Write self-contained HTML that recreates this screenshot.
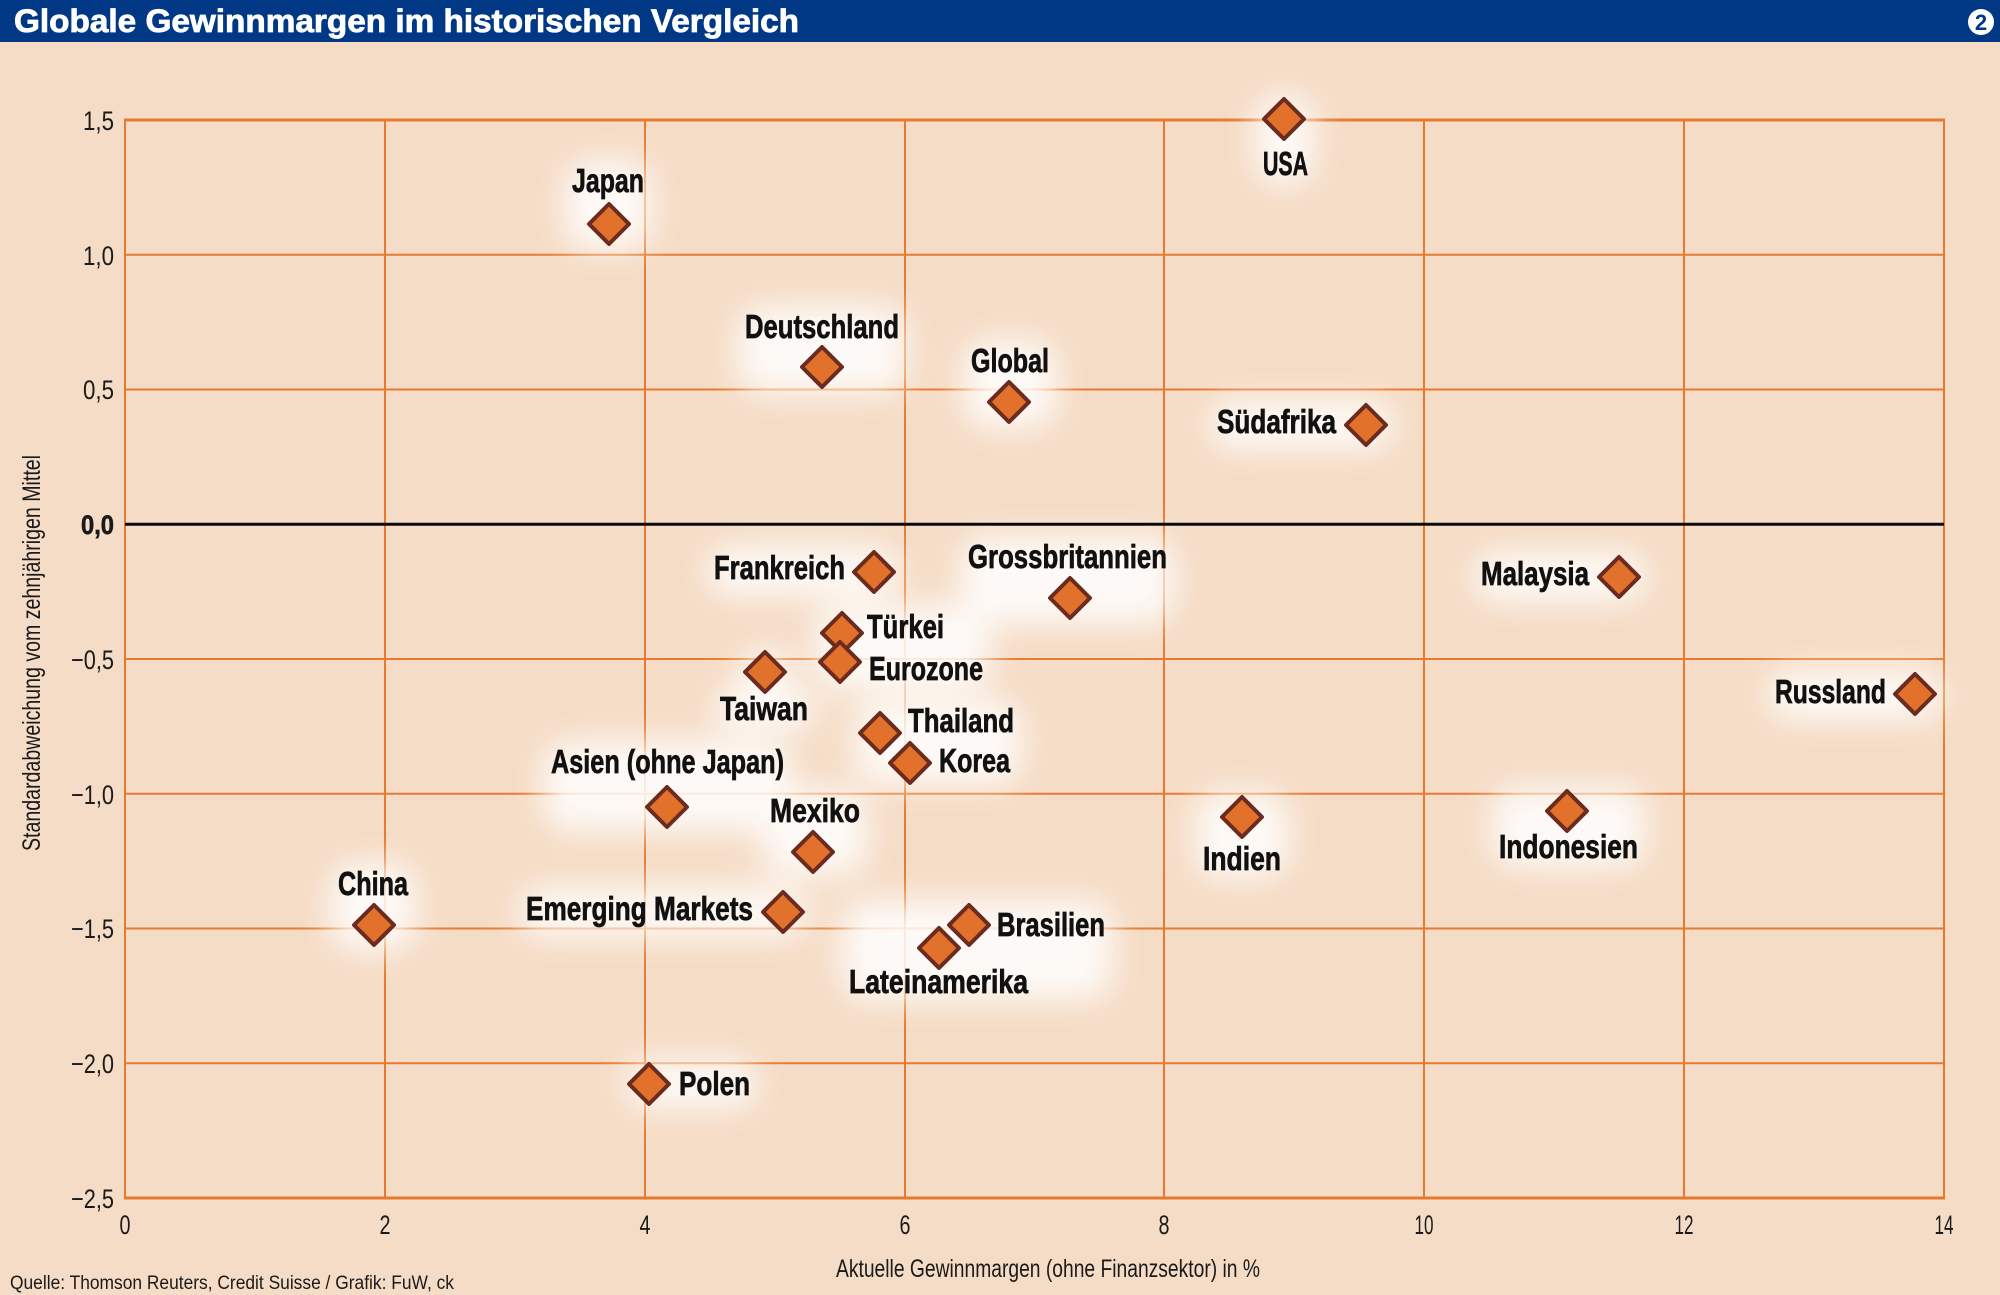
<!DOCTYPE html>
<html><head><meta charset="utf-8"><style>
html,body{margin:0;padding:0;background:#f5dcc6;}
body{width:2000px;height:1295px;overflow:hidden;}
svg{display:block;}
text{font-family:"Liberation Sans Narrow","Liberation Sans",sans-serif;}
.lb{font-weight:bold;font-size:33px;fill:#111;stroke:#111;stroke-width:0.7;}
.tk{font-size:27px;fill:#1a1a1a;}
</style></head><body>
<svg width="2000" height="1295" viewBox="0 0 2000 1295" xmlns="http://www.w3.org/2000/svg">
<defs>
<filter id="blur" x="-50%" y="-50%" width="200%" height="200%"><feGaussianBlur stdDeviation="16"/></filter>
</defs>
<rect x="0" y="0" width="2000" height="1295" fill="#f5dcc6"/>
<!-- header -->
<rect x="0" y="0" width="2000" height="42" fill="#003886"/>
<text x="14" y="32" font-size="32" font-weight="bold" fill="#fff" stroke="#fff" stroke-width="0.8" textLength="785" lengthAdjust="spacingAndGlyphs">Globale Gewinnmargen im historischen Vergleich</text>
<ellipse cx="1981" cy="22" rx="13" ry="13" fill="#fff"/>
<text x="1981" y="30" font-size="22" font-weight="bold" fill="#003886" text-anchor="middle">2</text>

<!-- grid -->
<g stroke="#e77a2e" stroke-width="2" fill="none">
<line x1="385" y1="120" x2="385" y2="1198"/>
<line x1="645" y1="120" x2="645" y2="1198"/>
<line x1="905" y1="120" x2="905" y2="1198"/>
<line x1="1164" y1="120" x2="1164" y2="1198"/>
<line x1="1424" y1="120" x2="1424" y2="1198"/>
<line x1="1684" y1="120" x2="1684" y2="1198"/>
<line x1="1944" y1="119" x2="1944" y2="1199"/>
<line x1="125" y1="119" x2="125" y2="1199"/>
<line x1="125" y1="254.75" x2="1944" y2="254.75"/>
<line x1="125" y1="389.5" x2="1944" y2="389.5"/>
<line x1="125" y1="659" x2="1944" y2="659"/>
<line x1="125" y1="793.75" x2="1944" y2="793.75"/>
<line x1="125" y1="928.5" x2="1944" y2="928.5"/>
<line x1="125" y1="1063.25" x2="1944" y2="1063.25"/>
<line x1="124" y1="120" x2="1945" y2="120" stroke-width="3"/>
<line x1="124" y1="1198" x2="1945" y2="1198" stroke-width="3"/>
</g>

<!-- glow -->
<g filter="url(#blur)" fill="#fff" opacity="0.85">
<rect x="1255" y="95" width="60" height="90" rx="25"/>
<rect x="564" y="160" width="88" height="90" rx="25"/>
<rect x="737" y="306" width="170" height="88" rx="25"/>
<rect x="963" y="340" width="94" height="88" rx="25"/>
<rect x="1209" y="400" width="185" height="50" rx="25"/>
<rect x="706" y="546" width="194" height="50" rx="25"/>
<rect x="960" y="536" width="215" height="88" rx="25"/>
<rect x="1473" y="552" width="174" height="50" rx="25"/>
<rect x="815" y="605" width="176" height="85" rx="25"/>
<rect x="740" y="648" width="50" height="80" rx="25"/>
<rect x="712" y="690" width="104" height="40" rx="20"/>
<rect x="1767" y="670" width="176" height="50" rx="25"/>
<rect x="855" y="700" width="167" height="85" rx="25"/>
<rect x="543" y="741" width="249" height="90" rx="25"/>
<rect x="1195" y="792" width="94" height="86" rx="25"/>
<rect x="1491" y="787" width="155" height="80" rx="25"/>
<rect x="762" y="790" width="106" height="85" rx="25"/>
<rect x="330" y="863" width="86" height="88" rx="25"/>
<rect x="518" y="887" width="290" height="50" rx="25"/>
<rect x="841" y="900" width="272" height="100" rx="25"/>
<rect x="624" y="1060" width="134" height="48" rx="24"/>
</g>

<!-- zero line -->
<line x1="125" y1="524.25" x2="1944" y2="524.25" stroke="#0a0a0a" stroke-width="3"/>

<!-- tick labels -->
<g class="tk">
<text x="114" y="130" text-anchor="end" textLength="31" lengthAdjust="spacingAndGlyphs">1,5</text>
<text x="114" y="265" text-anchor="end" textLength="31" lengthAdjust="spacingAndGlyphs">1,0</text>
<text x="114" y="399" text-anchor="end" textLength="31" lengthAdjust="spacingAndGlyphs">0,5</text>
<text x="114" y="534" text-anchor="end" font-weight="bold" stroke="#1a1a1a" stroke-width="0.6" textLength="33" lengthAdjust="spacingAndGlyphs">0,0</text>
<text x="114" y="669" text-anchor="end" textLength="43" lengthAdjust="spacingAndGlyphs">−0,5</text>
<text x="114" y="804" text-anchor="end" textLength="43" lengthAdjust="spacingAndGlyphs">−1,0</text>
<text x="114" y="938" text-anchor="end" textLength="43" lengthAdjust="spacingAndGlyphs">−1,5</text>
<text x="114" y="1073" text-anchor="end" textLength="43" lengthAdjust="spacingAndGlyphs">−2,0</text>
<text x="114" y="1208" text-anchor="end" textLength="43" lengthAdjust="spacingAndGlyphs">−2,5</text>
<text x="125" y="1234" text-anchor="middle" textLength="11" lengthAdjust="spacingAndGlyphs">0</text>
<text x="385" y="1234" text-anchor="middle" textLength="11" lengthAdjust="spacingAndGlyphs">2</text>
<text x="645" y="1234" text-anchor="middle" textLength="11" lengthAdjust="spacingAndGlyphs">4</text>
<text x="905" y="1234" text-anchor="middle" textLength="11" lengthAdjust="spacingAndGlyphs">6</text>
<text x="1164" y="1234" text-anchor="middle" textLength="11" lengthAdjust="spacingAndGlyphs">8</text>
<text x="1424" y="1234" text-anchor="middle" textLength="19" lengthAdjust="spacingAndGlyphs">10</text>
<text x="1684" y="1234" text-anchor="middle" textLength="19" lengthAdjust="spacingAndGlyphs">12</text>
<text x="1944" y="1234" text-anchor="middle" textLength="19" lengthAdjust="spacingAndGlyphs">14</text>
</g>

<!-- axis titles -->
<text x="1048" y="1277" font-size="25" fill="#1a1a1a" text-anchor="middle" textLength="424" lengthAdjust="spacingAndGlyphs">Aktuelle Gewinnmargen (ohne Finanzsektor) in %</text>
<text transform="translate(40,653) rotate(-90)" x="0" y="0" font-size="25" fill="#1a1a1a" text-anchor="middle" textLength="396" lengthAdjust="spacingAndGlyphs">Standardabweichung vom zehnjährigen Mittel</text>
<text x="10" y="1289" font-size="19" fill="#1a1a1a" textLength="444" lengthAdjust="spacingAndGlyphs">Quelle: Thomson Reuters, Credit Suisse / Grafik: FuW, ck</text>

<!-- diamonds -->
<g fill="#e2712b" stroke="#6b2b1e" stroke-width="4" stroke-linejoin="round">
<path d="M1284 99 L1304 119 L1284 139 L1264 119 Z"/>
<path d="M609 204 L629 224 L609 244 L589 224 Z"/>
<path d="M822 347 L842 367 L822 387 L802 367 Z"/>
<path d="M1009 382 L1029 402 L1009 422 L989 402 Z"/>
<path d="M1366 405 L1386 425 L1366 445 L1346 425 Z"/>
<path d="M874 552 L894 572 L874 592 L854 572 Z"/>
<path d="M1070 578 L1090 598 L1070 618 L1050 598 Z"/>
<path d="M1619 557 L1639 577 L1619 597 L1599 577 Z"/>
<path d="M842 613 L862 633 L842 653 L822 633 Z"/>
<path d="M840 642 L860 662 L840 682 L820 662 Z"/>
<path d="M765 652 L785 672 L765 692 L745 672 Z"/>
<path d="M1915 674 L1935 694 L1915 714 L1895 694 Z"/>
<path d="M880 713 L900 733 L880 753 L860 733 Z"/>
<path d="M910 743 L930 763 L910 783 L890 763 Z"/>
<path d="M667 787 L687 807 L667 827 L647 807 Z"/>
<path d="M1242 797 L1262 817 L1242 837 L1222 817 Z"/>
<path d="M1567 791 L1587 811 L1567 831 L1547 811 Z"/>
<path d="M813 832 L833 852 L813 872 L793 852 Z"/>
<path d="M374 905 L394 925 L374 945 L354 925 Z"/>
<path d="M783 892 L803 912 L783 932 L763 912 Z"/>
<path d="M939 928 L959 948 L939 968 L919 948 Z"/>
<path d="M969 905 L989 925 L969 945 L949 925 Z"/>
<path d="M649 1064 L669 1084 L649 1104 L629 1084 Z"/>
</g>

<!-- labels -->
<g class="lb">
<text x="1263" y="175" textLength="45" lengthAdjust="spacingAndGlyphs">USA</text>
<text x="572" y="192" textLength="72" lengthAdjust="spacingAndGlyphs">Japan</text>
<text x="745" y="338" textLength="154" lengthAdjust="spacingAndGlyphs">Deutschland</text>
<text x="971" y="372" textLength="78" lengthAdjust="spacingAndGlyphs">Global</text>
<text x="1217" y="433" textLength="119" lengthAdjust="spacingAndGlyphs">Südafrika</text>
<text x="714" y="579" textLength="131" lengthAdjust="spacingAndGlyphs">Frankreich</text>
<text x="968" y="568" textLength="199" lengthAdjust="spacingAndGlyphs">Grossbritannien</text>
<text x="1481" y="585" textLength="108" lengthAdjust="spacingAndGlyphs">Malaysia</text>
<text x="867" y="638" textLength="77" lengthAdjust="spacingAndGlyphs">Türkei</text>
<text x="869" y="680" textLength="114" lengthAdjust="spacingAndGlyphs">Eurozone</text>
<text x="720" y="720" textLength="88" lengthAdjust="spacingAndGlyphs">Taiwan</text>
<text x="1775" y="703" textLength="111" lengthAdjust="spacingAndGlyphs">Russland</text>
<text x="908" y="732" textLength="106" lengthAdjust="spacingAndGlyphs">Thailand</text>
<text x="939" y="772" textLength="71" lengthAdjust="spacingAndGlyphs">Korea</text>
<text x="551" y="773" textLength="233" lengthAdjust="spacingAndGlyphs">Asien (ohne Japan)</text>
<text x="1203" y="870" textLength="78" lengthAdjust="spacingAndGlyphs">Indien</text>
<text x="1499" y="858" textLength="139" lengthAdjust="spacingAndGlyphs">Indonesien</text>
<text x="770" y="822" textLength="90" lengthAdjust="spacingAndGlyphs">Mexiko</text>
<text x="338" y="895" textLength="70" lengthAdjust="spacingAndGlyphs">China</text>
<text x="526" y="920" textLength="227" lengthAdjust="spacingAndGlyphs">Emerging Markets</text>
<text x="997" y="936" textLength="108" lengthAdjust="spacingAndGlyphs">Brasilien</text>
<text x="849" y="993" textLength="179" lengthAdjust="spacingAndGlyphs">Lateinamerika</text>
<text x="679" y="1095" textLength="71" lengthAdjust="spacingAndGlyphs">Polen</text>
</g>
</svg>
</body></html>
